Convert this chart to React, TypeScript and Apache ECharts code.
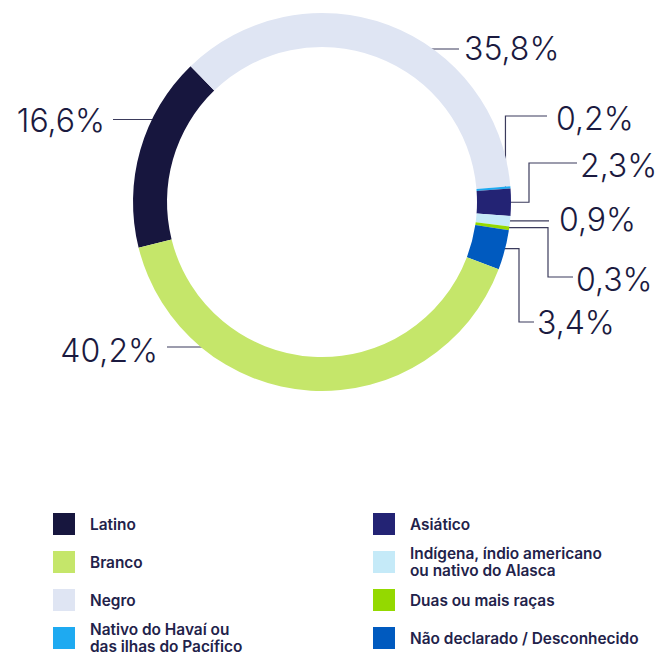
import React, { useEffect, useRef } from 'react';
import * as echarts from 'echarts';

// Slices in clockwise drawing order (starting at Latino)
const categories = [
  'Latino',
  'Negro',
  'Nativo do Havaí ou das ilhas do Pacífico',
  'Asiático',
  'Indígena, índio americano ou nativo do Alasca',
  'Duas ou mais raças',
  'Não declarado / Desconhecido',
  'Branco',
];
const values = [16.6, 35.8, 0.2, 2.3, 0.9, 0.3, 3.4, 40.2];
const colors = ['#17163e', '#dfe5f3', '#1eaaf1', '#232374', '#c5eaf8', '#94d900', '#005abf', '#c5e66a'];

// Legend order (left column then right column)
const legendOrder = [
  'Latino',
  'Branco',
  'Negro',
  'Nativo do Havaí ou das ilhas do Pacífico',
  'Asiático',
  'Indígena, índio americano ou nativo do Alasca',
  'Duas ou mais raças',
  'Não declarado / Desconhecido',
];
const legendWrapped: Record<string, string> = {
  'Nativo do Havaí ou das ilhas do Pacífico': 'Nativo do Havaí ou\ndas ilhas do Pacífico',
  'Indígena, índio americano ou nativo do Alasca': 'Indígena, índio americano\nou nativo do Alasca',
};

const CX = 322;
const CY = 202;
const R_IN = 155;
const R_OUT = 189;
const LINE_R = 184;
const START = 194;
const TEXT_COLOR = '#1b1a40';
const LINE_COLOR = '#3b3b5c';
const LEGEND_LH = 17;

const fmt = (v: number) => v.toFixed(1).replace('.', ',') + '%';

export default function App() {
  const ref = useRef<HTMLDivElement>(null);
  useEffect(() => {
    if (!ref.current) return;
    const chart = echarts.init(ref.current, null, { renderer: 'svg' });
    const total = values.reduce((a, b) => a + b, 0);

    const startPoint = (i: number, pts?: number[][]) => {
      let px: number, py: number;
      if (pts && pts.length) {
        px = pts[0][0];
        py = pts[0][1];
      } else {
        let before = 0;
        for (let k = 0; k < i; k++) before += values[k];
        const a = ((START - ((before + values[i] / 2) / total) * 360) * Math.PI) / 180;
        px = CX + Math.cos(a) * R_OUT;
        py = CY - Math.sin(a) * R_OUT;
      }
      const dx = px - CX;
      const dy = py - CY;
      const d = Math.hypot(dx, dy) || 1;
      return [CX + (dx / d) * LINE_R, CY + (dy / d) * LINE_R];
    };
    const hz = (y: number, side: number) => [CX + side * Math.sqrt(LINE_R * LINE_R - (y - CY) * (y - CY)), y];

    const labelLayout = (params: any) => {
      const i = params.dataIndex;
      const name = categories[i];
      const s = startPoint(i, params.labelLinePoints);
      switch (name) {
        case 'Latino': {
          const y = 119.5;
          const p = hz(y, -1);
          return { x: 105, y: y + 1, align: 'right', verticalAlign: 'middle', labelLinePoints: [p, [113, y]] };
        }
        case 'Negro': {
          const y = 49;
          const p = hz(y, 1);
          return { x: 464, y: y - 1, align: 'left', verticalAlign: 'middle', labelLinePoints: [p, [459, y]] };
        }
        case 'Branco': {
          const y = 347;
          const p = hz(y, -1);
          return { x: 158, y: y + 3, align: 'right', verticalAlign: 'middle', labelLinePoints: [p, [167, y]] };
        }
        case 'Nativo do Havaí ou das ilhas do Pacífico': {
          const y = 116;
          return { x: 556, y: y + 2, align: 'left', verticalAlign: 'middle', labelLinePoints: [s, [s[0], y], [547, y]] };
        }
        case 'Asiático': {
          const y = 163;
          return { x: 580, y: y + 2, align: 'left', verticalAlign: 'middle', labelLinePoints: [s, [529, s[1]], [529, y], [577, y]] };
        }
        case 'Indígena, índio americano ou nativo do Alasca': {
          const y = s[1];
          return { x: 559, y: y - 1, align: 'left', verticalAlign: 'middle', labelLinePoints: [s, [549, y]] };
        }
        case 'Duas ou mais raças': {
          const y = 277;
          return { x: 576, y: y + 2, align: 'left', verticalAlign: 'middle', labelLinePoints: [s, [548, s[1]], [548, y], [573, y]] };
        }
        case 'Não declarado / Desconhecido': {
          const y = 322;
          return { x: 537, y: y, align: 'left', verticalAlign: 'middle', labelLinePoints: [s, [519, s[1]], [519, y], [534, y]] };
        }
      }
      return {};
    };

    const legends = legendOrder.map((name, k) => {
      const col = k < 4 ? 0 : 1;
      const row = k % 4;
      const text = legendWrapped[name] || name;
      const lines = text.split('\n').length;
      const cy = 524 + row * 38;
      return {
        data: [name],
        left: col ? 373 : 53,
        top: cy - Math.max(11, (lines * LEGEND_LH) / 2),
        orient: 'vertical',
        icon: 'rect',
        itemWidth: 22,
        itemHeight: 22,
        itemGap: 0,
        padding: 0,
        selectedMode: false,
        formatter: (n: string) => legendWrapped[n] || n,
        textStyle: {
          color: '#22224a',
          fontSize: 15.4,
          fontWeight: 600,
          fontFamily: 'Inter',
          lineHeight: LEGEND_LH,
          padding: [0, 0, 0, 10],
        },
      };
    });

    chart.setOption({
      animation: false,
      backgroundColor: '#ffffff',
      color: colors,
      legend: legends,
      series: [
        {
          type: 'pie',
          center: [CX, CY],
          radius: [R_IN, R_OUT],
          startAngle: START,
          clockwise: true,
          avoidLabelOverlap: false,
          silent: true,
          emphasis: { disabled: true, scale: false },
          data: categories.map((name, i) => ({ name, value: values[i], itemStyle: { color: colors[i] } })),
          label: {
            show: true,
            position: 'outside',
            formatter: (p: any) => fmt(p.value),
            color: TEXT_COLOR,
            fontSize: 32,
            fontWeight: 300,
            fontFamily: 'Inter',
          },
          labelLine: {
            show: true,
            length: 10,
            length2: 10,
            smooth: false,
            lineStyle: { color: LINE_COLOR, width: 1.2 },
          },
          labelLayout,
        },
      ],
    });
    return () => chart.dispose();
  }, []);
  return <div ref={ref} style={{ position: 'fixed', left: 0, top: 0, width: 657, height: 652 }} />;
}
